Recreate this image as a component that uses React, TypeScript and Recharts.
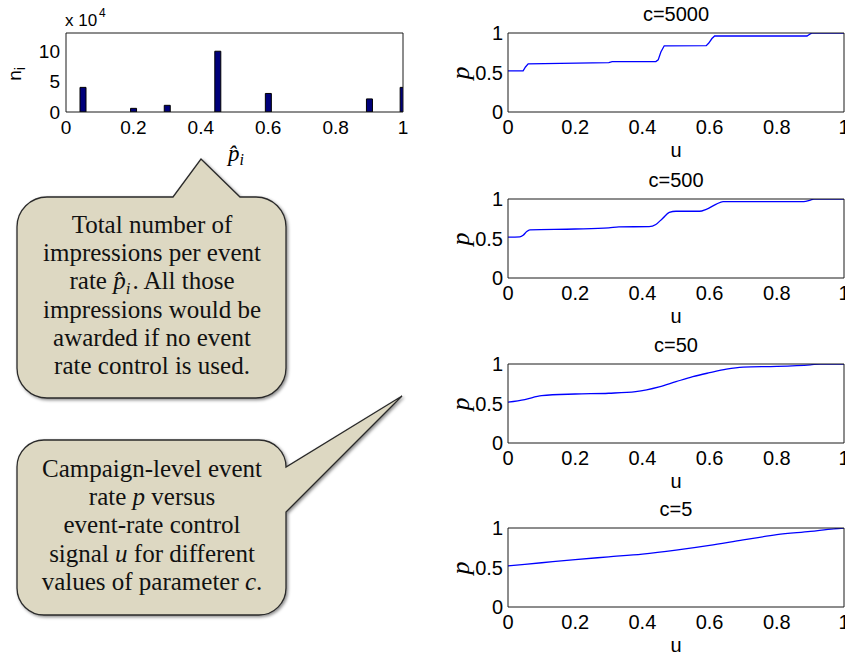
import React from 'react';
import { BarChart, Bar, LineChart, Line, XAxis, YAxis } from 'recharts';

// ---- Data ----
const pHat = [0.05, 0.2, 0.3, 0.45, 0.6, 0.9, 1.0];
const nCounts = [4.05, 0.6, 1.1, 10, 3.05, 2.15, 4.05]; // in units of 10^4
const barXTicks = [0, 0.2, 0.4, 0.6, 0.8, 1];
const barYTicks = [0, 5, 10];

const uTicks = [0, 0.2, 0.4, 0.6, 0.8, 1];
const pTicks = [0, 0.5, 1];

const u5000 = [0, 0.045, 0.052, 0.06, 0.3, 0.31, 0.44, 0.447, 0.455, 0.465, 0.59, 0.597, 0.607, 0.615, 0.89, 0.9, 0.905, 1];
const p5000 = [0.52, 0.52, 0.57, 0.609, 0.626, 0.638, 0.638, 0.66, 0.76, 0.838, 0.84, 0.87, 0.93, 0.962, 0.962, 0.99, 1.0, 1.0];

const u500 = [0, 0.035, 0.045, 0.055, 0.065, 0.2, 0.3, 0.33, 0.42, 0.44, 0.46, 0.48, 0.5, 0.57, 0.59, 0.62, 0.64, 0.88, 0.9, 0.91, 1];
const p500 = [0.517, 0.52, 0.54, 0.585, 0.61, 0.62, 0.635, 0.648, 0.65, 0.677, 0.754, 0.83, 0.845, 0.845, 0.87, 0.935, 0.966, 0.966, 0.987, 1.0, 1.0];

const u50 = [0, 0.05, 0.1, 0.2, 0.3, 0.38, 0.45, 0.5, 0.55, 0.6, 0.65, 0.7, 0.8, 0.9, 0.93, 1];
const p50 = [0.517, 0.55, 0.6, 0.62, 0.63, 0.65, 0.71, 0.776, 0.84, 0.89, 0.935, 0.96, 0.97, 0.99, 1.0, 1.0];

const u5 = [0, 0.1, 0.2, 0.3, 0.4, 0.5, 0.6, 0.7, 0.8, 0.9, 0.97, 1];
const p5 = [0.52, 0.56, 0.6, 0.635, 0.67, 0.72, 0.78, 0.85, 0.915, 0.957, 0.99, 1.0];

const cLabels = ['c=5000', 'c=500', 'c=50', 'c=5'];

const barData = pHat.map((x, i) => ({ x, n: nCounts[i] }));
const zip = (us: number[], ps: number[]) => us.map((u, i) => ({ u, p: ps[i] }));
const curves = [
  { label: cLabels[0], data: zip(u5000, p5000), type: 'linear', top: 33 },
  { label: cLabels[1], data: zip(u500, p500), type: 'monotone', top: 199 },
  { label: cLabels[2], data: zip(u50, p50), type: 'monotone', top: 364 },
  { label: cLabels[3], data: zip(u5, p5), type: 'monotone', top: 528 },
];

const SANS = '"Liberation Sans", Arial, Helvetica, sans-serif';
const SERIF = '"Liberation Serif", "Times New Roman", serif';
const AX = '#1a1a1a';
const fmt = (v: number) => String(v);

function PChart({ data, top, type }: { data: any[]; top: number; type: any }) {
  const tickStyle = { fill: '#000', fontSize: 20, fontFamily: SANS };
  return (
    <div style={{ position: 'absolute', left: 440, top: top - 33 }}>
      <LineChart width={405} height={165} data={data} margin={{ top: 33, right: 1, bottom: 0, left: 0 }}>
        <Line xAxisId="b" yAxisId="l" type={type} dataKey="p" stroke="#0000ff" strokeWidth={1.3} dot={false} activeDot={false} isAnimationActive={false} />
        <XAxis xAxisId="b" type="number" dataKey="u" domain={[0, 1]} ticks={uTicks} height={53} tickLine={false} tickSize={0} tickMargin={8} axisLine={{ stroke: AX }} tick={tickStyle} tickFormatter={fmt} interval={0} allowDataOverflow />
        <XAxis xAxisId="bm" type="number" dataKey="u" domain={[0, 1]} ticks={uTicks} orientation="bottom" mirror tick={false} tickSize={4} axisLine={false} tickLine={{ stroke: AX }} interval={0} allowDataOverflow />
        <XAxis xAxisId="t" type="number" dataKey="u" domain={[0, 1]} ticks={uTicks} orientation="top" mirror tick={false} tickSize={4} axisLine={{ stroke: AX }} tickLine={{ stroke: AX }} interval={0} allowDataOverflow />
        <YAxis yAxisId="l" type="number" domain={[0, 1]} ticks={pTicks} width={68} tickLine={false} tickSize={0} tickMargin={5} axisLine={{ stroke: AX }} tick={tickStyle} tickFormatter={fmt} interval={0} allowDataOverflow />
        <YAxis yAxisId="lm" type="number" domain={[0, 1]} ticks={pTicks} orientation="left" mirror tick={false} tickSize={4} axisLine={false} tickLine={{ stroke: AX }} interval={0} allowDataOverflow />
        <YAxis yAxisId="r" type="number" domain={[0, 1]} ticks={pTicks} orientation="right" mirror tick={false} tickSize={4} axisLine={{ stroke: AX }} tickLine={{ stroke: AX }} interval={0} allowDataOverflow />
      </LineChart>
    </div>
  );
}

function NChart() {
  const tickStyle = { fill: '#000', fontSize: 19, fontFamily: SANS };
  return (
    <div style={{ position: 'absolute', left: 0, top: 0 }}>
      <BarChart width={420} height={140} data={barData} margin={{ top: 33, right: 17, bottom: 0, left: 0 }}>
        <Bar xAxisId="b" yAxisId="l" dataKey="n" barSize={6} fill="#00007a" stroke="#000" strokeWidth={1} isAnimationActive={false} />
        <XAxis xAxisId="b" type="number" dataKey="x" domain={[0, 1]} ticks={barXTicks} height={28} tickLine={false} tickSize={0} tickMargin={9} axisLine={{ stroke: AX }} tick={tickStyle} tickFormatter={fmt} interval={0} allowDataOverflow />
        <XAxis xAxisId="bm" type="number" dataKey="x" domain={[0, 1]} ticks={barXTicks} orientation="bottom" mirror tick={false} tickSize={3} axisLine={false} tickLine={{ stroke: AX }} interval={0} allowDataOverflow />
        <XAxis xAxisId="t" type="number" dataKey="x" domain={[0, 1]} ticks={barXTicks} orientation="top" mirror tick={false} tickSize={3} axisLine={{ stroke: AX }} tickLine={{ stroke: AX }} interval={0} allowDataOverflow />
        <YAxis yAxisId="l" type="number" domain={[0, 13]} ticks={barYTicks} width={66} tickLine={false} tickSize={0} tickMargin={6} axisLine={{ stroke: AX }} tick={tickStyle} tickFormatter={fmt} interval={0} allowDataOverflow />
        <YAxis yAxisId="lm" type="number" domain={[0, 13]} ticks={barYTicks} orientation="left" mirror tick={false} tickSize={3} axisLine={false} tickLine={{ stroke: AX }} interval={0} allowDataOverflow />
        <YAxis yAxisId="r" type="number" domain={[0, 13]} ticks={barYTicks} orientation="right" mirror tick={false} tickSize={3} axisLine={{ stroke: AX }} tickLine={{ stroke: AX }} interval={0} allowDataOverflow />
      </BarChart>
    </div>
  );
}

const bubble1 =
  'M 47 197 L 173 197 L 201 159 L 240 197 L 256 197 A 30 30 0 0 1 286 227 L 286 368 A 30 30 0 0 1 256 398 L 47 398 A 30 30 0 0 1 17 368 L 17 227 A 30 30 0 0 1 47 197 Z';
const bubble2 =
  'M 45 440 L 259 440 A 27 27 0 0 1 286 467 L 402 396 L 286 512 L 286 588 A 27 27 0 0 1 259 615 L 45 615 A 27 27 0 0 1 17 588 L 17 467 A 27 27 0 0 1 45 440 Z';

export default function App() {
  const ct = { fontFamily: SERIF, fontSize: 25, fill: '#111', textAnchor: 'middle' as const };
  return (
    <div style={{ position: 'absolute', left: 0, top: 0, width: 845, height: 657, overflow: 'hidden', background: '#fff' }}>
      <NChart />
      {curves.map((c) => (
        <PChart key={c.label} data={c.data} top={c.top} type={c.type} />
      ))}
      <svg width={845} height={657} style={{ position: 'absolute', left: 0, top: 0, pointerEvents: 'none' }}>
        <defs>
          <filter id="sh" x="-10%" y="-10%" width="120%" height="120%">
            <feDropShadow dx="1.5" dy="1.5" stdDeviation="1.5" floodColor="#000" floodOpacity="0.45" />
          </filter>
        </defs>
        {/* bar chart labels */}
        <text x={65} y={26} fontFamily={SANS} fontSize={17} fill="#000">x 10</text>
        <text x={99} y={17} fontFamily={SANS} fontSize={12} fill="#000">4</text>
        <text transform="translate(21,74) rotate(-90)" textAnchor="middle" fontFamily={SANS} fontSize={19} fill="#000">
          n<tspan fontSize={14} dy={4}>i</tspan>
        </text>
        <text x={236} y={161} textAnchor="middle" fontFamily={SERIF} fontSize={23} fontStyle="italic" fill="#000">
          {'p\u0302'}<tspan fontSize={16} dy={4}>i</tspan>
        </text>
        {/* right chart labels */}
        {curves.map((c) => (
          <g key={c.label + 'l'}>
            <text x={676} y={c.top - 12} textAnchor="middle" fontFamily={SANS} fontSize={20} fill="#000">{c.label}</text>
            <text x={676} y={c.top + 79 + 45} textAnchor="middle" fontFamily={SANS} fontSize={20} fill="#000">u</text>
            <text transform={`translate(469,${c.top + 40}) rotate(-90)`} textAnchor="middle" fontFamily={SERIF} fontSize={26} fontStyle="italic" fill="#000">p</text>
          </g>
        ))}
        {/* callouts */}
        <path d={bubble1} fill="#ddd8c2" stroke="#2a2a2a" strokeWidth={1.3} filter="url(#sh)" />
        <path d={bubble2} fill="#ddd8c2" stroke="#2a2a2a" strokeWidth={1.3} filter="url(#sh)" />
        <text x={152} y={233} {...ct}>Total number of</text>
        <text x={152} y={261} {...ct}>impressions per event</text>
        <text x={152} y={289} {...ct}>
          rate <tspan fontStyle="italic">{'p\u0302'}</tspan>
          <tspan fontStyle="italic" fontSize={17} dy={5}>i</tspan>
          <tspan dy={-5} dx={2}>. All those</tspan>
        </text>
        <text x={152} y={318} {...ct}>impressions would be</text>
        <text x={152} y={346} {...ct}>awarded if no event</text>
        <text x={152} y={374} {...ct}>rate control is used.</text>

        <text x={152} y={477} {...ct}>Campaign-level event</text>
        <text x={152} y={505} {...ct}>
          rate <tspan fontStyle="italic">p</tspan> versus
        </text>
        <text x={152} y={533} {...ct}>event-rate control</text>
        <text x={152} y={562} {...ct}>
          signal <tspan fontStyle="italic">u</tspan> for different
        </text>
        <text x={152} y={590} {...ct}>
          values of parameter <tspan fontStyle="italic">c</tspan>.
        </text>
      </svg>
    </div>
  );
}
